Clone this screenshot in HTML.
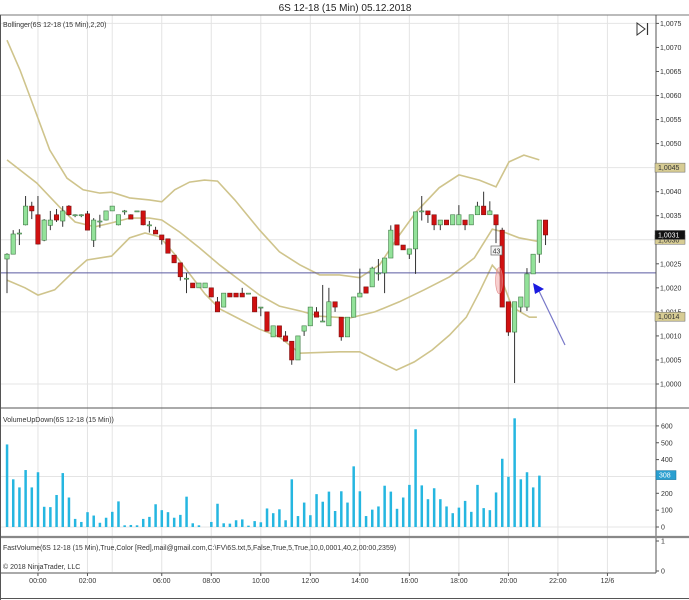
<!DOCTYPE html>
<html><head><meta charset="utf-8">
<style>
html,body{margin:0;padding:0;background:#fff;}
svg{display:block;font-family:"Liberation Sans",sans-serif;}
</style></head>
<body>
<svg id="chart" width="689" height="600" viewBox="0 0 689 600" xmlns="http://www.w3.org/2000/svg">
<rect x="0" y="0" width="689" height="600" fill="#fff"/>
<text x="345" y="11" font-size="10" text-anchor="middle" fill="#222">6S 12-18 (15 Min)  05.12.2018</text>
<g id="grid"></g>
<g id="bands"></g>
<g id="candles"></g>
<g id="vols"></g>
<g id="axes"></g>
</svg>
<script>
// ---- data (prices in pips above 1.0000) ----
const opens  = [26.0,27.0,31.4,33.1,37.0,35.2,29.9,33.0,35.2,33.9,37.0,35.2,35.2,35.4,29.9,33.9,34.1,36.0,33.1,36.0,35.2,36.0,36.0,33.1,32.0,31.0,30.2,26.8,25.2,22.0,21.0,20.0,20.0,20.0,17.1,16.0,18.9,18.9,18.9,18.9,18.1,16.0,15.0,9.8,12.1,10.0,8.9,5.0,11.0,12.1,15.0,13.1,12.1,17.1,13.9,9.8,13.9,18.1,20.2,20.2,23.1,23.1,26.2,33.1,28.9,27.0,28.1,36.0,36.0,35.2,33.1,34.1,33.1,33.1,34.1,33.1,35.2,37.0,35.2,35.2,32.0,17.1,10.8,16.0,16.0,22.9,27.0,34.1];
const highs  = [27.2,32.0,32.2,39.1,37.9,39.1,34.3,36.0,36.4,37.0,37.2,35.3,35.3,36.0,34.5,35.2,36.0,37.0,35.2,36.2,35.3,36.0,36.0,33.9,32.7,31.0,30.2,26.8,25.2,23.1,21.0,21.0,21.0,20.0,18.1,18.9,18.9,18.9,20.0,18.9,18.1,16.0,15.0,12.1,12.1,11.0,8.9,10.0,12.1,16.0,16.0,20.6,20.0,17.1,13.9,13.9,18.1,24.0,20.2,24.4,26.0,26.2,33.0,33.1,28.9,28.1,35.8,39.1,36.0,35.2,34.1,34.1,35.2,37.2,34.1,35.2,37.9,40.0,38.0,35.2,32.5,17.1,17.1,18.1,24.1,27.0,34.1,34.1];
const lows   = [18.9,27.0,28.9,33.0,34.3,29.0,29.7,32.0,33.7,32.7,35.0,34.7,34.7,32.0,28.5,32.5,34.0,36.0,33.0,35.2,34.3,36.0,33.0,31.5,31.2,29.0,27.2,25.2,21.5,18.9,20.0,20.0,20.0,18.1,15.0,16.0,18.1,18.1,18.1,18.9,15.0,14.1,11.0,9.8,9.8,8.9,4.0,5.0,10.0,12.1,13.9,12.9,12.1,15.0,9.0,9.8,13.9,18.1,18.9,20.2,21.5,18.9,26.2,28.9,27.9,26.0,22.9,34.0,33.5,32.0,32.0,33.1,33.1,33.1,32.0,33.1,35.2,35.2,35.2,29.3,16.0,10.0,0.2,15.0,15.2,22.9,25.2,28.9];
const closes = [27.0,31.2,31.4,37.0,36.0,29.1,34.1,34.1,34.1,36.0,35.2,35.2,35.2,32.0,34.1,33.9,36.0,37.0,35.2,36.0,34.3,36.0,33.1,33.1,31.2,30.0,27.2,25.2,22.3,22.0,20.0,21.0,21.0,18.1,15.0,18.9,18.1,18.1,18.1,18.9,15.0,16.0,11.0,12.1,9.8,8.9,5.0,10.0,12.1,16.0,13.9,13.1,17.1,16.0,9.8,13.9,18.1,18.9,18.9,24.1,23.1,26.2,32.0,28.9,27.9,28.1,35.8,36.0,35.2,33.1,34.1,33.1,35.2,35.2,33.1,35.2,37.0,35.2,36.0,33.1,16.0,10.8,17.1,18.1,22.9,27.0,34.1,31.0];
const volumes = [490,283,235,338,235,325,120,118,190,320,175,48,30,88,68,25,55,90,152,10,12,10,48,60,135,100,88,55,72,180,22,10,0,30,138,22,20,40,45,8,35,28,110,82,105,40,283,65,145,70,195,150,210,95,212,145,360,212,65,103,122,245,210,108,175,250,580,247,165,230,165,122,82,115,155,90,250,112,100,205,405,298,645,283,325,235,305];
const upperIdx = [0,2.1,4.5,6.9,9.7,12.3,15,16.9,19.8,23,25,27.1,29.5,31.9,34,36.8,40.8,44,47.3,50.5,53.7,57,60.2,63.4,66.1,69.8,73,76.3,79,81.1,83.5,86];
const upperVal = [71.5,65.3,57.0,48.7,42.8,40.4,39.7,39.9,38.7,38.3,37.9,40.4,42.0,42.4,42.2,38.3,32.0,27.5,24.8,22.7,22.7,22.1,24.8,31.0,35.8,40.8,43.5,42.4,41.0,46.2,47.6,46.6];
const midIdx = [0,4.8,8.5,11,14.2,16.9,19.8,23,25,27.9,31.1,34.4,37.6,40.8,44,47.3,50.5,55.3,59.4,63.4,67.4,71.5,75.5,78.4,80.3,82.7,85.6];
const midVal = [46.6,41.8,36.8,33.7,32.7,33.5,34.5,34.5,34.1,31.6,28.3,24.7,21.6,18.5,16.2,15.2,14.1,13.7,15.0,17.1,19.6,22.3,26.2,32.2,31.6,30.4,29.7];
const lowerIdx = [0,2.9,5,7.7,10.2,12.9,16.9,19.8,22.3,24.7,27.1,29.5,32,34.4,37.6,40.8,44,47.3,53.7,57,60.2,62.9,65.8,68.7,71.5,74.2,76.3,78.4,79.5,81.6,84.4,85.6];
const lowerVal = [21.6,20.0,18.5,19.6,22.7,25.8,26.6,30.4,31.4,30.6,27.0,22.9,18.7,15.6,13.5,11.4,9.8,6.4,6.7,6.7,4.6,2.9,4.6,7.1,10.2,13.9,19.1,24.7,23.1,16.0,13.9,13.9];
const priceTicks = [75,70,65,60,55,50,45,40,35,30,25,20,15,10,5,0];
const volTicks = [0,100,200,300,400,500,600];
const timeLabels = ["00:00","02:00","06:00","08:00","10:00","12:00","14:00","16:00","18:00","20:00","22:00","12/6"];
const timeBarIdx = [5,13,25,33,41,49,57,65,73,81,89,97];
const hLinePips = 23.1;

// ---- scales ----
const NS="http://www.w3.org/2000/svg";
const xB = i => 7 + i*6.19;
const yP = v => 384 - v*4.808;
const yV = v => 527 - v*0.1685;
function mk(tag, attrs, parent){const e=document.createElementNS(NS,tag);for(const k in attrs)e.setAttribute(k,attrs[k]);parent.appendChild(e);return e;}
const grid=document.getElementById('grid'),bands=document.getElementById('bands'),cg=document.getElementById('candles'),vg=document.getElementById('vols'),ax=document.getElementById('axes');

// grid
for(let v=0; v<=75; v+=15){const l=mk('line',{x1:0,x2:656,y1:yP(v),y2:yP(v),stroke:'#e4e4e4','stroke-width':1},grid);

}
[0,300,600].forEach(v=>{const l=mk('line',{x1:0,x2:656,y1:yV(v),y2:yV(v),stroke:'#e4e4e4','stroke-width':1},grid);

});
const vxs=[...timeBarIdx.map(xB), xB(17)];
vxs.forEach(x=>{const l=mk('line',{x1:x,x2:x,y1:15,y2:572,stroke:'#e4e4e4','stroke-width':1},grid);

});

// bands
function band(idx,val,name){let d='';idx.forEach((i,k)=>{d+=(k?'L':'M')+xB(i).toFixed(1)+' '+yP(val[k]).toFixed(1);});
const p=mk('path',{d:d,fill:'none',stroke:'#cfc48c','stroke-width':1.6},bands);

}
band(upperIdx,upperVal,'bollinger-upper');
band(midIdx,midVal,'bollinger-middle');
band(lowerIdx,lowerVal,'bollinger-lower');

// horizontal line
const hl=mk('line',{x1:0,x2:656,y1:yP(hLinePips),y2:yP(hLinePips),stroke:'#5a5aa0','stroke-width':1},bands);



// candles
opens.forEach((o,i)=>{const c=closes[i],x=xB(i);const up=c>=o;
const w=mk('line',{x1:x,x2:x,y1:yP(highs[i]),y2:yP(lows[i]),stroke:'#333','stroke-width':1},cg);


const top=yP(Math.max(o,c)),h=Math.max(1,Math.abs(yP(o)-yP(c)));
const r=mk('rect',{x:x-2.2,y:top,width:4.4,height:h,fill:up?'#93e29a':'#d01010',stroke:up?'#3f7a45':'#7a1010','stroke-width':0.6},cg);

});

// annotations
const el=mk('ellipse',{cx:xB(79.5),cy:yP(21.5),rx:3.5,ry:13,fill:'rgba(240,150,150,0.45)',stroke:'#e08080','stroke-width':0.6},cg);


const lb=mk('rect',{x:491,y:246,width:11,height:9,fill:'#f4f4f4',stroke:'#666','stroke-width':0.7},cg);


const lt=mk('text',{x:496.5,y:253.5,'font-size':7,'text-anchor':'middle',fill:'#333'},cg);lt.textContent='43';


const ar=mk('line',{x1:565,y1:345,x2:539,y2:291,stroke:'#7878c8','stroke-width':1.2},cg);


const at=mk('polygon',{points:'533,283 544,289 535,294',fill:'#1a1ae0'},cg);



// volume bars
volumes.forEach((v,i)=>{const x=xB(i);const r=mk('rect',{x:x-1.2,y:yV(v),width:2.5,height:Math.max(0.01,yV(0)-yV(v)),fill:'#25b6e0'},vg);

});

// frames & axes
function line(x1,y1,x2,y2,col,w,name){const l=mk('line',{x1,y1,x2,y2,stroke:col,'stroke-width':w},ax);

}
line(0,15,689,15,'#777',1,'top-border');
line(656,15,656,573,'#555',1,'right-axis-line');
line(0,408,689,408,'#555',1,'price-panel-bottom');
line(0,537,689,537,'#888',2.2,'volume-panel-bottom');
line(0,573,656,573,'#555',1,'time-axis-line');
line(0.5,15,0.5,600,'#555',1,'left-border');
line(0,598.5,689,598.5,'#555',1,'bottom-border');

function txt(x,y,s,size,anchor,fill,name){const t=mk('text',{x,y,'font-size':size,'text-anchor':anchor||'start',fill:fill||'#333'},ax);t.textContent=s;

return t;}
priceTicks.forEach(v=>{const y=yP(v);line(656,y,659,y,'#555',1,'price-tick');
txt(660,y+2.5,(1+v/10000).toFixed(4).replace('.',','),7,'start','#333','price-tick-label');});
volTicks.forEach(v=>{const y=yV(v);line(656,y,659,y,'#555',1,'volume-tick');
txt(661,y+2.5,String(v),7,'start','#333','volume-tick-label');});
line(656,541,659,541,'#555',1,'fv-tick');txt(661,543.5,'1',7,'start','#333','fv-tick-label');
line(656,571,659,571,'#555',1,'fv-tick');txt(661,573.5,'0',7,'start','#333','fv-tick-label');
timeLabels.forEach((s,k)=>{const x=xB(timeBarIdx[k]);line(x,573,x,576,'#555',1,'time-tick');
txt(x,583,s,7,'middle','#333','time-label');});

// value markers on axis
function marker(y,s,bg,fg,name){const r=mk('rect',{x:655,y:y-4.5,width:30,height:9,fill:bg,stroke:'#666','stroke-width':0.5},ax);


txt(658,y+2.5,s,7,'start',fg,name+'-text');}
marker(yP(45),'1,0045','#d7cc94','#333','upper-band-marker');
marker(yP(30),'1,0030','#d7cc94','#333','middle-band-marker');
marker(yP(31),'1,0031','#111','#fff','last-price-marker');
marker(yP(14),'1,0014','#d7cc94','#333','lower-band-marker');
const vm=mk('rect',{x:656,y:yV(308)-4.5,width:20,height:9,fill:'#2a9fd0',stroke:'#16709a','stroke-width':0.5},ax);


txt(659,yV(308)+2.5,'308',7,'start','#fff','volume-marker-text');

// panel labels
txt(3,27,'Bollinger(6S 12-18 (15 Min),2,20)',7,'start','#333','bollinger-label');
txt(3,422,'VolumeUpDown(6S 12-18 (15 Min))',7,'start','#333','volume-label');
txt(3,550,'FastVolume(6S 12-18 (15 Min),True,Color [Red],mail@gmail.com,C:\\FV\\6S.txt,5,False,True,5,True,10,0,0001,40,2,00:00,2359)',7,'start','#333','fastvolume-label');
txt(3,569,'© 2018 NinjaTrader, LLC',7,'start','#333','copyright');

// scroll-to-end icon
const ic=mk('polygon',{points:'637,23 637,35 645,29',fill:'none',stroke:'#333','stroke-width':1},ax);


line(647.5,23,647.5,35,'#333',1.2,'scroll-end-bar');
</script>
</body></html>
